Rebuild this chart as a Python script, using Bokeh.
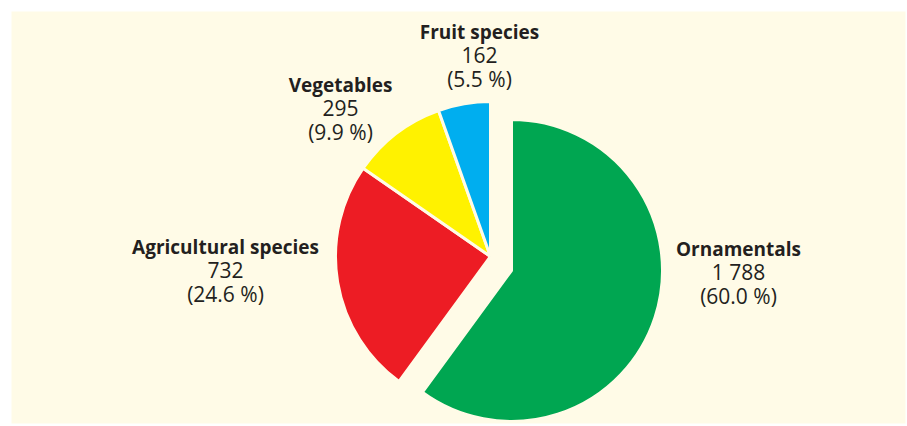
import math
from bokeh.plotting import figure
from bokeh.models import ColumnDataSource, Range1d
from bokeh.core.properties import value
from bokeh.embed import file_html
from bokeh.resources import INLINE

# ---- data ----
sectors = ["Ornamentals", "Agricultural species", "Vegetables", "Fruit species"]
counts = [1788, 732, 295, 162]
count_labels = ["1 788", "732", "295", "162"]
pct_labels = ["(60.0 %)", "(24.6 %)", "(9.9 %)", "(5.5 %)"]
colors = ["#00A651", "#ED1C24", "#FFF200", "#00AEEF"]

# ---- layout (pixels inside the panel, y up) ----
W, H = 894, 412
BG = "#FFFBE7"
main_c = (479, 167)       # centre of the pie
green_c = (500, 153)      # exploded first slice
r_main, r_green = 155, 151
# label anchors (x centre, y of first line)
label_pos = [(727, 175), (214, 177), (329, 339), (468, 392)]
line_gap = 23.5

total = sum(counts)
starts, ends, cx, cy, rr = [], [], [], [], []
cum = 0
for i, c in enumerate(counts):
    a0 = math.pi / 2 - 2 * math.pi * cum / total
    cum += c
    a1 = math.pi / 2 - 2 * math.pi * cum / total
    starts.append(a0)
    ends.append(a1)
    cen = green_c if i == 0 else main_c
    cx.append(cen[0])
    cy.append(cen[1])
    rr.append(r_green if i == 0 else r_main)

src = ColumnDataSource(dict(x=cx, y=cy, r=rr, s=starts, e=ends, color=colors))

p = figure(width=907, height=426, output_backend="svg", toolbar_location=None,
           x_range=Range1d(0, W), y_range=Range1d(0, H),
           min_border_left=11, min_border_right=2, min_border_top=11, min_border_bottom=3)
p.axis.visible = False
p.grid.visible = False
p.outline_line_color = None
p.background_fill_color = BG
p.border_fill_color = "white"

p.wedge(x="x", y="y", radius="r", start_angle="s", end_angle="e", direction="clock",
        fill_color="color", line_color=BG, line_width=3, source=src)

lx = [q[0] for q in label_pos]
ly = [q[1] for q in label_pos]
lsrc = ColumnDataSource(dict(
    x=lx, y1=ly, y2=[v - line_gap for v in ly], y3=[v - 2 * line_gap for v in ly],
    name=sectors, cnt=count_labels, pct=pct_labels))

common = dict(text_align="center", text_baseline="middle", text_color="#231F20",
              text_font=value("Open Sans"), source=lsrc)
p.text(x="x", y="y1", text="name", text_font_style="bold", text_font_size="19px", **common)
p.text(x="x", y="y2", text="cnt", text_font_size="21px", **common)
p.text(x="x", y="y3", text="pct", text_font_size="21px", **common)

open("out.html", "w").write(file_html(p, INLINE))
